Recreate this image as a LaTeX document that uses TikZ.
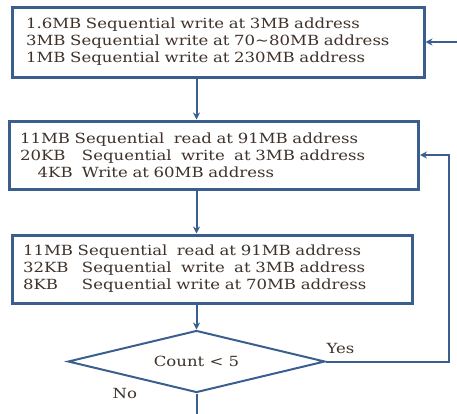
\documentclass[tikz,border=0pt]{standalone}
\usepackage{fontspec}
\setmainfont[FakeStretch=1.18]{DejaVu Serif}
\usetikzlibrary{arrows.meta, positioning, shapes.geometric}
\definecolor{FlowBlue}{RGB}{58,95,143}
\definecolor{InkBrown}{RGB}{62,50,42}

\begin{document}
\begin{tikzpicture}[
    x=1pt, y=-1pt,
    font=\fontsize{14}{17}\selectfont,
    opbox/.style={draw=FlowBlue, line width=3pt, fill=white, align=left,
        text=InkBrown, minimum height=68pt},
    check/.style={diamond, draw=FlowBlue, line width=2pt, aspect=4.1,
        minimum width=257pt, minimum height=62pt, inner sep=0pt,
        text=InkBrown},
    lbl/.style={text=InkBrown},
    flow/.style={-{Stealth[length=7pt, width=7pt]}, line width=2pt, FlowBlue},
]
\useasboundingbox (0,0) rectangle (457,413);
\clip (0,0) rectangle (457,413);

% first write burst
\node[opbox, text width=384pt, inner xsep=14pt, minimum height=70pt] (burst) at (218,42)
    {1.6MB Sequential write at 3MB address\\
     3MB Sequential write at 70\textasciitilde80MB address\\
     1MB Sequential write at 230MB address};

% mixed pass A
\node[opbox, text width=388pt, inner xsep=10.5pt, below=41pt of burst, xshift=-4pt] (passa)
    {11MB Sequential\ \ read at 91MB address\\
     \makebox[62pt][l]{20KB}Sequential\ \ write\ \ at 3MB address\\
     \makebox[62pt][r]{4KB\ \ }Write at 60MB address};

% mixed pass B
\node[opbox, text width=378pt, inner xsep=11pt, below=43pt of passa, xshift=-2pt] (passb)
    {11MB Sequential\ \ read at 91MB address\\
     \makebox[59pt][l]{32KB}Sequential\ \ write\ \ at 3MB address\\
     \makebox[59pt][l]{8KB}Sequential write at 70MB address};

% loop test
\node[check, below=25pt of passb, xshift=-15.5pt] (count) {Count < 5};

\draw[flow] (burst.south -| count.north) -- (passa.north -| count.north);
\draw[flow] (passa.south -| count.north) -- (passb.north -| count.north);
\draw[flow] (passb.south -| count.north) -- (count.north);

% yes: back to pass A
\draw[flow] (count.east) -- ++(122.5,0) coordinate (yesturn) |- (passa.east);
\node[lbl, above right=4pt and -3pt of count.east] (yes) {Yes};

% no: round the outside, back to the first burst
\draw[flow] (count.south) -- ++(0,22) coordinate (noturn) -- ++(280,0) |- (burst.east);
\node[lbl, below left=-9pt and 56pt of count.south] (no) {No};

\end{tikzpicture}
\end{document}
